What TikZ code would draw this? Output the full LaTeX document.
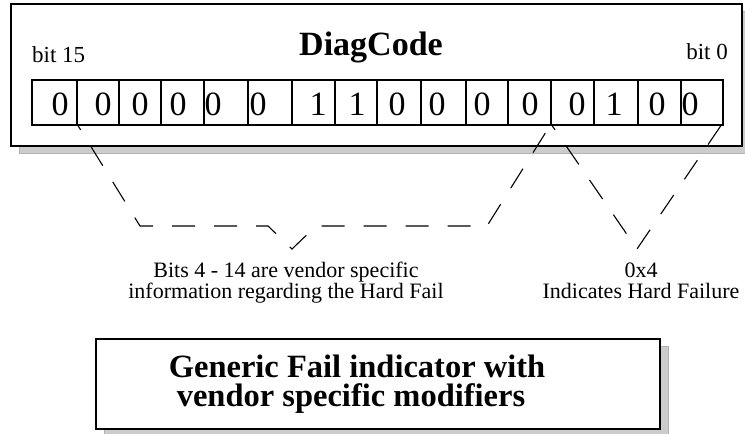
\documentclass[tikz,border=0pt]{standalone}
\usepackage{fontspec}
\setmainfont{Liberation Serif}
\begin{document}
\begin{tikzpicture}[x=1pt,y=-1pt,
  box/.style={draw=black, line width=2.2pt, fill=white, inner sep=0pt, outer sep=0pt, anchor=north west},
  shadowbox/.style={fill=black!20, draw=black!30, line width=0.6pt},
  cellline/.style={line width=1.6pt},
  bracket/.style={line width=1.1pt, dash pattern=on 23pt off 19pt, dash phase=16pt},
  digit/.style={font=\fontsize{34}{34}\selectfont, anchor=base, inner sep=0pt},
  bitlabel/.style={font=\fontsize{23}{23}\selectfont, inner sep=0pt},
  note/.style={font=\fontsize{22}{22}\selectfont, inner sep=0pt, anchor=base},
  titletext/.style={font=\bfseries\fontsize{34}{34}\selectfont, inner sep=0pt},
  boxtext/.style={font=\bfseries\fontsize{32.5}{28.5}\selectfont, inner sep=0pt, align=left}]
\useasboundingbox (0,0) rectangle (745,434);
\fill[white] (0,0) rectangle (745,434);
% top box
\path[shadowbox] (19,11) rectangle (752,153);
\node[box, minimum width=731pt, minimum height=142pt] (top) at (11,4) {};
\node[bitlabel, anchor=base west] (bit15) at (32,62) {bit 15};
\node[bitlabel, anchor=base east] (bit0) at (728,59) {bit 0};
\node[titletext, anchor=base] (diag) at (371,55) {DiagCode};
% cells
\draw[cellline] (32,80) rectangle (723,125);
\foreach \x in {77,119,161,204,248,292,335,377,421,466,508,551,594,638,681}
  \draw[cellline] (\x,80) -- (\x,125);
\foreach \x/\v [count=\i] in {60/0,103/0,140/0,178/0,213/0,258/0,318/1,357/1,397/0,437/0,482/0,530/0,577/0,614/1,657/0,690/0}
  \node[digit] (d\i) at (\x,115) {\v};
% bracket coordinates
\coordinate (b15) at (77,124);
\coordinate (b4) at (551,124);
\coordinate (b0) at (722,124);
\coordinate (l1) at (140,226);
\coordinate (l2) at (268,226);
\coordinate (tipA) at (292,249);
\coordinate (l3) at (316,226);
\coordinate (l4) at (487,226);
\coordinate (tipB) at (637,249);
\draw[bracket] (b15) -- (l1) -- (l2) -- (tipA) -- (l3) -- (l4) -- (b4);
\draw[bracket] (b4) -- (tipB) -- (b0);
% notes
\node[note] (n1a) at (286,277) {Bits 4 - 14 are vendor specific};
\node[note] (n1b) at (286,298) {information regarding the Hard Fail};
\node[note] (n2a) at (641,277) {0x4};
\node[note] (n2b) at (641,298) {Indicates Hard Failure};
% bottom box
\path[shadowbox] (104,346) rectangle (668,437);
\node[box, minimum width=564pt, minimum height=90pt] (gbox) at (96,339) {};
\node[boxtext, anchor=center] (gtext) at (357,384) {Generic Fail indicator with\\\hspace*{8pt}vendor specific modifiers};
\end{tikzpicture}
\end{document}
